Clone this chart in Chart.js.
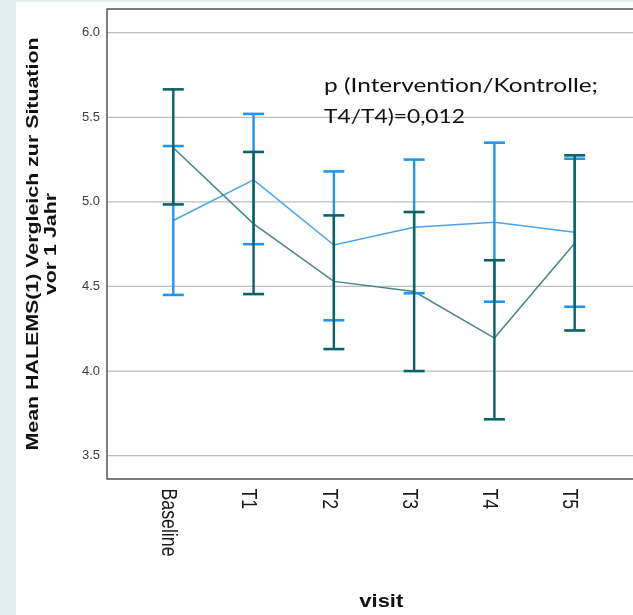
<!DOCTYPE html>
<html>
<head>
<meta charset="utf-8">
<script src="https://cdn.jsdelivr.net/npm/chart.js@4.4.1/dist/chart.umd.min.js"></script>
<style>
  html, body { margin: 0; padding: 0; overflow: hidden; background: #fff; }
  #myChart { display: block; }
</style>
</head>
<body>
<canvas id="myChart" width="641" height="615" style="width:641px;height:615px"></canvas>
<script>
// data
const categories = ['Baseline', 'T1', 'T2', 'T3', 'T4', 'T5'];
const yTicks = [3.5, 4.0, 4.5, 5.0, 5.5, 6.0];

// light blue group
const interventionMean = [4.89, 5.13, 4.745, 4.85, 4.88, 4.82];
const interventionLow  = [4.45, 4.75, 4.30, 4.46, 4.41, 4.38];
const interventionHigh = [5.33, 5.52, 5.18, 5.25, 5.35, 5.255];

// dark teal group
const controlMean = [5.32, 4.87, 4.53, 4.47, 4.195, 4.755];
const controlLow  = [4.985, 4.455, 4.13, 4.00, 3.715, 4.24];
const controlHigh = [5.665, 5.295, 4.92, 4.94, 4.655, 5.275];

const note = ['p (Intervention/Kontrolle;', 'T4/T4)=0,012'];
const yTitle = ['Mean HALEMS(1) Vergleich zur Situation', 'vor 1 Jahr'];
const xTitle = 'visit';

const blue = '#2196ec';
const blueLine = '#4aa3ee';
const teal = '#0b6262';
const tealLine = '#4a8580';

function meanPoints(m) {
    return m.map((v, i) => ({ x: i, y: v }));
}

function barPoints(lo, hi) {
    let d = [];
    for (let i = 0; i < lo.length; i++) {
        d.push({ x: i, y: lo[i] }, { x: i, y: hi[i] }, { x: i, y: null });
    }
    return d;
}

function capPoints(lo, hi) {
    return meanPoints(lo).concat(meanPoints(hi));
}

function drawText(ctx, txt, x, y, o) {
    ctx.save();
    ctx.translate(x, y);
    ctx.rotate(o.rot || 0);
    ctx.font = o.font;
    let w = ctx.measureText(txt).width;
    let sx = o.width ? o.width / w : (o.sx || 1);
    ctx.scale(sx, o.sy || 1);
    ctx.textAlign = 'left';
    ctx.textBaseline = o.base || 'alphabetic';
    ctx.fillStyle = o.color || '#111';
    let ox = 0;
    if (o.align === 'center') ox = -w / 2;
    if (o.align === 'right') ox = -w;
    ctx.fillText(txt, ox, 0);
    ctx.restore();
    return sx;
}

const decor = {
    id: 'decor',
    beforeDraw(chart) {
        const ctx = chart.ctx;
        ctx.save();
        ctx.fillStyle = '#ffffff';
        ctx.fillRect(0, 0, chart.width, chart.height);
        ctx.fillStyle = '#e3edf0';
        ctx.fillRect(0, 0, 16, chart.height);
        ctx.fillRect(0, 0, chart.width, 2);
        ctx.restore();
    },
    beforeDatasetsDraw(chart) {
        const ctx = chart.ctx;
        const a = chart.chartArea;
        const ys = chart.scales.y;
        ctx.save();
        ctx.strokeStyle = '#bdbdbd';
        ctx.lineWidth = 1.3;
        yTicks.forEach(v => {
            let py = ys.getPixelForValue(v);
            ctx.beginPath();
            ctx.moveTo(a.left, py);
            ctx.lineTo(a.right, py);
            ctx.stroke();
            drawText(ctx, v.toFixed(1), a.left - 7, py, { font: '13px "Liberation Sans", Arial', color: '#3c3c3c', align: 'right', base: 'middle' });
        });
        ctx.restore();
    },
    afterDraw(chart) {
        const ctx = chart.ctx;
        const a = chart.chartArea;
        const xs = chart.scales.x;

        // frame
        ctx.save();
        ctx.strokeStyle = '#3a3a3a';
        ctx.lineWidth = 1.3;
        ctx.strokeRect(a.left, a.top, a.right - a.left, a.bottom - a.top);
        ctx.restore();

        // rotated category labels
        let sx = null;
        categories.forEach((c, i) => {
            let px = xs.getPixelForValue(i);
            let o = { rot: Math.PI / 2, font: '18px "Liberation Sans", Arial', sy: 1.2, color: '#1a1a1a' };
            if (sx === null) {
                o.width = 68;
                sx = drawText(ctx, c, px - 11.3, a.bottom + 9.5, o);
            } else {
                o.sx = sx;
                drawText(ctx, c, px - 11.3, a.bottom + 9.5, o);
            }
        });

        // axis titles
        let ty = (a.top + a.bottom) / 2;
        let s = drawText(ctx, yTitle[0], 37.5, ty, { rot: -Math.PI / 2, font: 'bold 17px "Liberation Sans", Arial', width: 413, align: 'center' });
        drawText(ctx, yTitle[1], 55.5, ty, { rot: -Math.PI / 2, font: 'bold 17px "Liberation Sans", Arial', sx: s, align: 'center' });
        drawText(ctx, xTitle, 381.3, 606.5, { font: 'bold 19px "Liberation Sans", Arial', width: 44, align: 'center' });

        // note
        drawText(ctx, note[0], 324, 91.7, { font: '20px Lato', width: 274 });
        drawText(ctx, note[1], 324, 123.3, { font: '20px Lato', width: 141 });
    }
};

const ctx = document.getElementById('myChart');

const myChart = new Chart(ctx, {
    type: 'line',
    data: {
        datasets: [
            { label: 'Kontrolle KI', data: barPoints(controlLow, controlHigh), borderColor: teal, borderWidth: 2.4, pointRadius: 0, spanGaps: false },
            { label: 'Kontrolle KI caps', data: capPoints(controlLow, controlHigh), showLine: false, pointStyle: 'line', pointRadius: 10.5, pointBorderWidth: 2.6, pointBorderColor: teal, pointBackgroundColor: teal },
            { label: 'Intervention KI', data: barPoints(interventionLow, interventionHigh), borderColor: blue, borderWidth: 2.4, pointRadius: 0, spanGaps: false },
            { label: 'Intervention KI caps', data: capPoints(interventionLow, interventionHigh), showLine: false, pointStyle: 'line', pointRadius: 10.5, pointBorderWidth: 2.6, pointBorderColor: blue, pointBackgroundColor: blue },
            { label: 'Kontrolle', data: meanPoints(controlMean), borderColor: tealLine, borderWidth: 1.5, pointRadius: 0, tension: 0 },
            { label: 'Intervention', data: meanPoints(interventionMean), borderColor: blueLine, borderWidth: 1.5, pointRadius: 0, tension: 0 }
        ]
    },
    options: {
        responsive: false,
        animation: false,
        events: [],
        layout: { autoPadding: false, padding: { top: 9, right: 0, bottom: 136, left: 107 } },
        plugins: {
            legend: { display: false },
            tooltip: { enabled: false }
        },
        scales: {
            x: { type: 'linear', display: false, min: -0.826, max: 5.826 },
            y: { type: 'linear', display: false, min: 3.362, max: 6.14 }
        }
    },
    plugins: [decor]
});
</script>
</body>
</html>
